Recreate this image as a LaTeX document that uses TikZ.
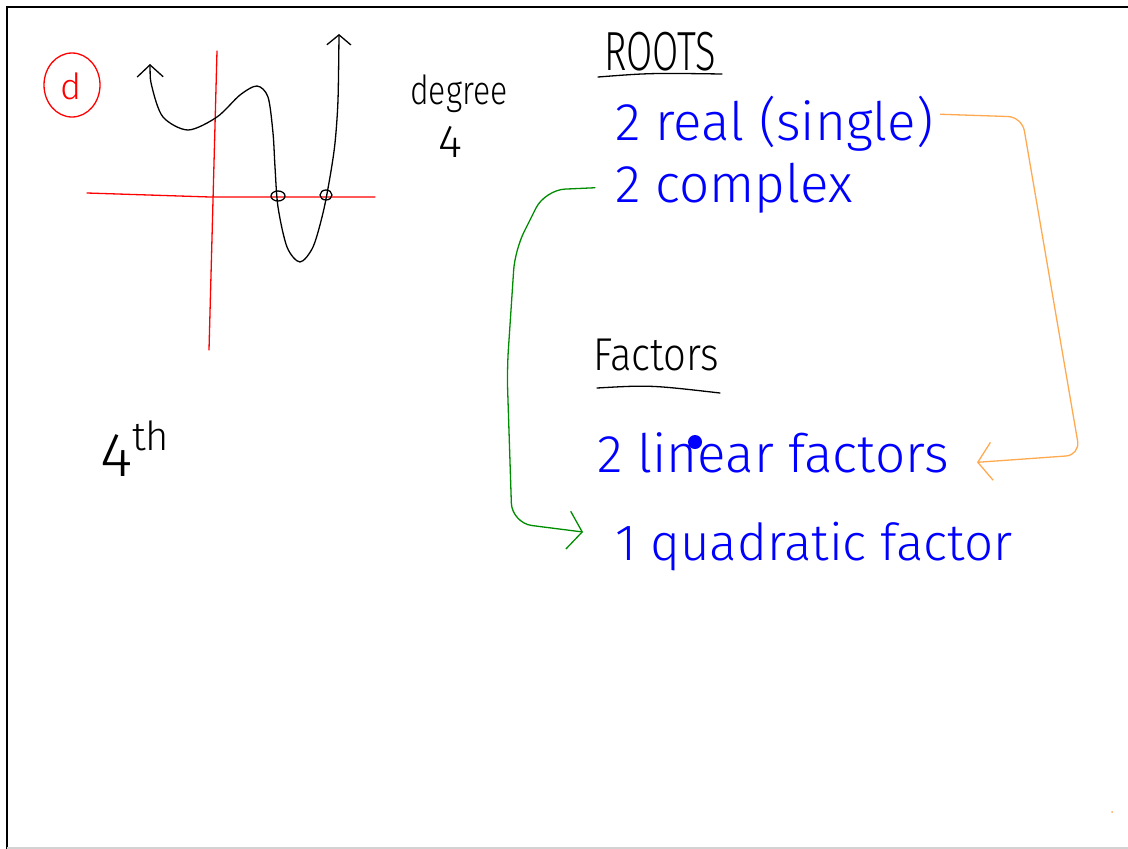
\documentclass[tikz,border=0pt]{standalone}
\usepackage{fontspec}
\setmainfont{Fira Sans Light}
\usetikzlibrary{arrows.meta}
\definecolor{penblue}{RGB}{0,0,255}
\definecolor{penred}{RGB}{255,0,0}
\definecolor{penorange}{RGB}{255,170,80}
\definecolor{pengreen}{RGB}{0,140,0}

\begin{document}
\begin{tikzpicture}[
    x=1pt, y=-1pt,
    ink/.style={line width=1.3pt, line cap=round, line join=round},
    heading/.style={inner sep=0pt, anchor=base west},
    entry/.style={heading, text=penblue, font=\fontsize{53}{53}\selectfont},
    barb/.style={-{Straight Barb[length=14pt, width=38pt, line width=1.3pt]}}
]
\useasboundingbox (0,0) rectangle (1128,849);
% frame
\draw[line width=2.5pt] (7,849) -- (7,7) -- (1128,7);
\draw[gray!35, line width=1.5pt] (7,848) -- (1128,848);

% sketch of the quartic
\draw[penred, ink] (72,85) ellipse (28 and 32);
\node[text=penred, font=\fontsize{36}{36}\selectfont] (part) at (71,86) {d};
\draw[penred, ink] (87,193) -- (210,197) -- (375,197);
\draw[penred, ink] (217,51) -- (209,350);
\draw[ink, {Straight Barb[length=12pt, width=26pt, line width=1.3pt]}-{Straight Barb[length=10pt, width=24pt, line width=1.3pt]}]
  plot[smooth] coordinates {(150,64) (152,87) (163,117) (188,130) (217,117) (240,95) (257,86) (268,97) (273,133) (275,167) (278,207) (287,247) (300,262) (313,247) (323,213) (330,177) (335,143) (338,100) (339,34)};
\draw[ink] (278,196) ellipse (7 and 5);
\draw[ink] (326,195) ellipse (6 and 5);
\node[heading, font=\fontsize{32}{32}\selectfont] (degree) at (410,104) {\scalebox{1}[1.25]{degree}};
\node[heading, font=\fontsize{46}{46}\selectfont] (four) at (438,157) {4};
\node[heading, font=\fontsize{62}{62}\selectfont] (fourth) at (100,476) {4\raisebox{26pt}{\fontsize{40}{40}\selectfont th}};

% roots
\node[heading, font=\fontsize{38}{38}\selectfont] (roots) at (604,70) {\scalebox{1}[1.45]{ROOTS}};
\draw[ink] (598,77) .. controls (650,73) .. (722,74);
\node[entry] (real) at (615,140) {2 real (single)};
\node[entry] (complex) at (615,202) {2 complex};

% factors
\node[heading, font=\fontsize{40}{40}\selectfont] (factors) at (593,370) {\scalebox{1}[1.15]{Factors}};
\draw[ink] (597,388) .. controls (650,385) .. (720,393);
\node[entry] (linear) at (597,472) {2 linear factors};
\fill[penblue] (695,442) circle (7);
\node[entry, font=\fontsize{51}{51}\selectfont] (quad) at (615,560) {1 quadratic factor};

% connectors
\draw[penorange, ink, barb, rounded corners=14pt] ([xshift=7pt,yshift=9pt]real.east) -- (1022,117) -- (1080,455) -- ([xshift=28pt,yshift=-10pt]linear.east);
\draw[pengreen, ink, barb, rounded corners=20pt] ([xshift=-20pt]complex.west) -- (545,190) -- (515,250) -- (507,370) -- (512,523) -- ([xshift=-32pt,yshift=14pt]quad.west);
\fill[penorange] (1112,812) circle (1);
\end{tikzpicture}
\end{document}
